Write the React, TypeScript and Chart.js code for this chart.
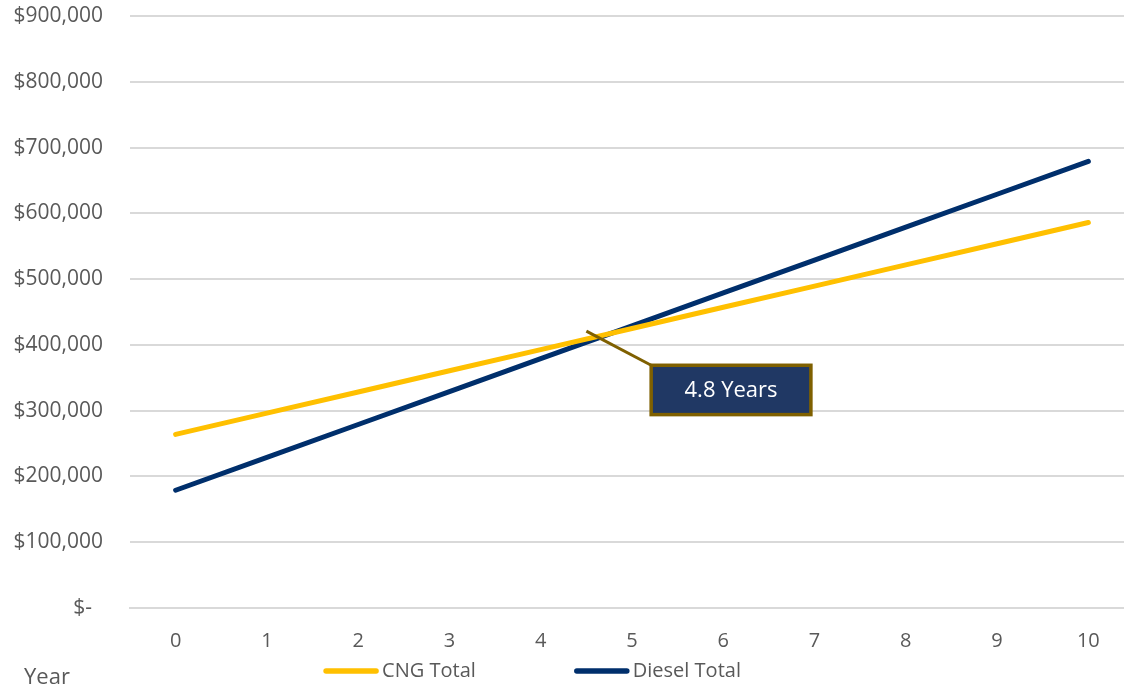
import React, { useEffect, useRef } from "react";
import { Chart, registerables } from "chart.js";

Chart.register(...registerables);

const years = ["0", "1", "2", "3", "4", "5", "6", "7", "8", "9", "10"];
const cngTotal = [264000, 296200, 328400, 360600, 392800, 425000, 457200, 489400, 521600, 553800, 586000];
const dieselTotal = [179000, 229000, 279000, 329000, 379000, 429000, 479000, 529000, 579000, 629000, 679000];
const seriesNames = ["CNG Total", "Diesel Total"];
const seriesColors = ["#FFC000", "#002F6C"];
const annotationText = "4.8 Years";
const axisTitle = "Year";

const FONT = "'Open Sans', 'Noto Sans', sans-serif";
const TEXT = "#595959";

const extrasPlugin = {
  id: "extras",
  afterDatasetsDraw(chart: any) {
    const ctx = chart.ctx;
    const xs = chart.scales.x;
    const ys = chart.scales.y;
    const ax = xs.getPixelForValue(4.5);
    const ay = ys.getPixelForValue(421000);
    const bx1 = xs.getPixelForValue(5.21);
    const by1 = ys.getPixelForValue(369000);
    const bx2 = xs.getPixelForValue(6.96);
    const by2 = ys.getPixelForValue(294000);
    ctx.save();
    ctx.strokeStyle = "#7F6000";
    ctx.lineWidth = 3;
    ctx.beginPath();
    ctx.moveTo(ax, ay);
    ctx.lineTo(bx1, by1);
    ctx.stroke();
    ctx.fillStyle = "#203864";
    ctx.fillRect(bx1, by1, bx2 - bx1, by2 - by1);
    ctx.lineWidth = 3.5;
    ctx.strokeRect(bx1, by1, bx2 - bx1, by2 - by1);
    ctx.fillStyle = "#FFFFFF";
    ctx.font = `22px ${FONT}`;
    ctx.textAlign = "center";
    ctx.textBaseline = "middle";
    ctx.fillText(annotationText, (bx1 + bx2) / 2, (by1 + by2) / 2 + 1);
    ctx.restore();
  },
  afterDraw(chart: any) {
    const ctx = chart.ctx;
    ctx.save();
    ctx.fillStyle = TEXT;
    ctx.textBaseline = "middle";
    ctx.textAlign = "left";
    ctx.font = `22px ${FONT}`;
    ctx.fillText(axisTitle, 24, 678);
    ctx.font = `20px ${FONT}`;
    const sw = 56;
    const gapText = 3;
    const gapItem = 98;
    const items = chart.data.datasets.map((d: any) => ({
      label: d.label,
      color: d.borderColor,
      tw: ctx.measureText(d.label).width,
    }));
    let total = 0;
    items.forEach((it: any, i: number) => {
      total += sw + gapText + it.tw + (i < items.length - 1 ? gapItem : 0);
    });
    let x = 532 - total / 2;
    const y = 671;
    items.forEach((it: any) => {
      ctx.strokeStyle = it.color;
      ctx.lineWidth = 5.5;
      ctx.lineCap = "round";
      ctx.beginPath();
      ctx.moveTo(x + 3, y);
      ctx.lineTo(x + sw - 3, y);
      ctx.stroke();
      ctx.fillStyle = TEXT;
      ctx.fillText(it.label, x + sw + gapText, y);
      x += sw + gapText + it.tw + gapItem;
    });
    ctx.restore();
  },
};

export default function App() {
  const ref = useRef<HTMLCanvasElement | null>(null);
  useEffect(() => {
    document.body.style.margin = "0";
    if (!ref.current) return;
    const chart = new Chart(ref.current, {
      type: "line",
      data: {
        labels: years,
        datasets: [
          {
            label: seriesNames[0],
            data: cngTotal,
            borderColor: seriesColors[0],
            backgroundColor: seriesColors[0],
            borderWidth: 5,
            borderCapStyle: "round",
            pointRadius: 0,
            tension: 0,
          },
          {
            label: seriesNames[1],
            data: dieselTotal,
            borderColor: seriesColors[1],
            backgroundColor: seriesColors[1],
            borderWidth: 5,
            borderCapStyle: "round",
            pointRadius: 0,
            tension: 0,
          },
        ],
      },
      options: {
        animation: false,
        responsive: false,
        maintainAspectRatio: false,
        layout: { padding: { top: 16, right: 0, bottom: 42, left: 0 } },
        plugins: {
          legend: { display: false },
          tooltip: { enabled: false },
          title: { display: false },
        },
        scales: {
          x: {
            offset: true,
            grid: { display: false },
            border: { display: true, color: "#D9D9D9", width: 2 },
            ticks: {
              color: TEXT,
              font: { family: FONT, size: 20 },
              padding: 13,
              maxRotation: 0,
            },
            afterFit: (s: any) => {
              s.height = 40;
              s.paddingLeft = 0;
              s.paddingRight = 0;
            },
          },
          y: {
            min: 0,
            max: 900000,
            border: { display: false },
            grid: { color: "#D9D9D9", lineWidth: 2, drawTicks: false },
            ticks: {
              stepSize: 100000,
              color: TEXT,
              padding: 27,
              font: { family: FONT, size: 21 },
              callback: (v: any) =>
                Number(v) === 0 ? "$-  " : "$" + Number(v).toLocaleString("en-US"),
            },
            afterFit: (s: any) => {
              s.width = 130;
              s.paddingTop = 0;
              s.paddingBottom = 0;
            },
          },
        },
      },
      plugins: [extrasPlugin],
    } as any);
    return () => chart.destroy();
  }, []);
  return (
    <div style={{ width: 1124, height: 690, overflow: "hidden", background: "#fff" }}>
      <canvas ref={ref} width={1134} height={690} style={{ width: 1134, height: 690, display: "block" }} />
    </div>
  );
}
